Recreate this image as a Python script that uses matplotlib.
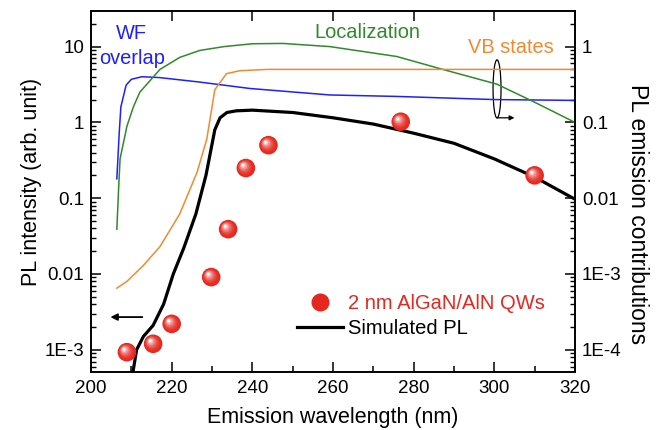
import numpy as np
import matplotlib
matplotlib.use("Agg")
import matplotlib.pyplot as plt
from matplotlib.lines import Line2D
from matplotlib.patches import Ellipse
from matplotlib.transforms import offset_copy
from matplotlib.ticker import FixedLocator, MultipleLocator, LogLocator, NullFormatter

plt.rcParams["font.family"] = ["Liberation Sans", "DejaVu Sans"]

# measured PL peak intensities (left axis)
exp_wl = [208.9, 215.4, 220.0, 229.8, 234.0, 238.4, 244.0, 276.8, 310.0]
exp_pl = [9.3e-4, 1.2e-3, 2.2e-3, 9.1e-3, 0.039, 0.25, 0.50, 1.02, 0.20]

# simulated PL (left axis)
sim_wl = [210.4, 211.3, 213.0, 215.4, 218.0, 220.4, 223.0, 226.0, 228.5, 230.7,
          232.0, 233.7, 236.0, 240.0, 250.0, 260.0, 270.0, 280.0, 290.0, 300.0,
          310.0, 320.0]
sim_pl = [5.1e-4, 1.0e-3, 1.5e-3, 2.1e-3, 4.0e-3, 0.01, 0.022, 0.062, 0.2, 0.8,
          1.15, 1.35, 1.42, 1.45, 1.35, 1.15, 0.95, 0.72, 0.53, 0.33,
          0.19, 0.097]

# emission contributions (right axis)
loc_wl = [206.4, 206.8, 207.2, 208.9, 210.5, 212.1, 217.1, 222.0, 227.0, 233.0,
          240.1, 247.6, 259.2, 275.8, 287.2, 300.6, 309.5, 320.0]
loc_val = [0.0039, 0.012, 0.033, 0.089, 0.16, 0.25, 0.5, 0.72, 0.89, 1.0,
           1.09, 1.1, 1.0, 0.74, 0.5, 0.32, 0.19, 0.1]

wf_wl = [206.4, 207.0, 207.4, 208.7, 210.0, 212.6, 217.0, 227.0, 239.4, 259.2,
         275.8, 300.0, 320.0]
wf_val = [0.018, 0.074, 0.16, 0.31, 0.37, 0.40, 0.39, 0.34, 0.28, 0.23,
          0.22, 0.2, 0.195]

vb_wl = [206.4, 208.9, 213.0, 217.1, 222.0, 226.3, 228.7, 230.7, 233.6, 236.9,
         243.6, 260.0, 320.0]
vb_val = [6.5e-4, 8.0e-4, 1.3e-3, 2.3e-3, 6.2e-3, 0.022, 0.06, 0.27, 0.44, 0.48,
          0.5, 0.5, 0.5]

left_ticks = [1e-3, 1e-2, 0.1, 1, 10]
left_labels = ["1E-3", "0.01", "0.1", "1", "10"]
right_ticks = [1e-4, 1e-3, 1e-2, 0.1, 1]
right_labels = ["1E-4", "1E-3", "0.01", "0.1", "1"]

c_blue = "#1f1fff"
c_green = "#2f8a2a"
c_orange = "#f3892f"
c_red = "#e5281f"

fig = plt.figure(figsize=(6.62, 4.30), dpi=100)
ax = fig.add_axes([0.1375, 0.135, 0.731, 0.8395])
ax2 = ax.twinx()

ax.set_xlim(200, 320)
ax.set_yscale("log")
ax.set_ylim(5.1e-4, 29.5)
ax2.set_yscale("log")
ax2.set_ylim(5.1e-5, 2.95)

# contributions on right axis
ax2.plot(wf_wl, wf_val, color=c_blue, lw=1.1)
ax2.plot(loc_wl, loc_val, color=c_green, lw=1.1)
ax2.plot(vb_wl, vb_val, color=c_orange, lw=1.1)

# simulated PL
ax.plot(sim_wl, sim_pl, color="black", lw=2.3, zorder=3)

# shaded spheres for the experimental points
n_layers = 8
for i in range(n_layers):
    f = i / (n_layers - 1)
    size = 175 * (1 - f) ** 1.6 + 4
    col = np.array(matplotlib.colors.to_rgb(c_red)) * (1 - f ** 2) + np.ones(3) * f ** 2
    tr = offset_copy(ax.transData, fig=fig, x=-2.2 * f, y=2.2 * f, units="points")
    ax.scatter(exp_wl, exp_pl, s=size, color=col, edgecolors="none",
               transform=tr, zorder=4 + i * 0.01)

# ticks
ax.yaxis.set_major_locator(FixedLocator(left_ticks))
ax.set_yticklabels(left_labels)
ax.yaxis.set_minor_locator(LogLocator(base=10, subs=np.arange(2, 10)))
ax.yaxis.set_minor_formatter(NullFormatter())
ax2.yaxis.set_major_locator(FixedLocator(right_ticks))
ax2.set_yticklabels(right_labels)
ax2.yaxis.set_minor_locator(LogLocator(base=10, subs=np.arange(2, 10)))
ax2.yaxis.set_minor_formatter(NullFormatter())
ax.xaxis.set_major_locator(MultipleLocator(20))
ax.xaxis.set_minor_locator(MultipleLocator(10))

ax.tick_params(axis="both", which="major", direction="in", length=7, width=1.1,
               labelsize=13.5, top=True, right=False)
ax.tick_params(axis="x", which="major", pad=6)
ax.tick_params(axis="y", which="major", pad=5)
ax.tick_params(axis="x", which="minor", direction="in", length=4, width=1.1,
               top=False, bottom=True)
ax.tick_params(axis="y", which="minor", direction="in", length=3.5, width=1.0,
               right=False)
ax2.tick_params(axis="y", which="major", direction="in", length=7, width=1.1,
                labelsize=13.5, pad=5)
ax2.tick_params(axis="y", which="minor", direction="in", length=3.5, width=1.0)
for a in (ax, ax2):
    for sp in a.spines.values():
        sp.set_linewidth(1.2)

ax.set_xlabel("Emission wavelength (nm)", fontsize=15.5)
ax.xaxis.label.set_va("center")
ax.xaxis.set_label_coords(0.5, -0.125)
ax.set_ylabel("PL intensity (arb. unit)", fontsize=15.5)
ax.yaxis.label.set_va("center")
ax.yaxis.set_label_coords(-0.122, 0.526)
ax2.set_ylabel("PL emission contributions", fontsize=16.5, rotation=-90)
ax2.yaxis.label.set_va("center")
ax2.yaxis.set_label_coords(1.13, 0.436)

# curve labels
ax.text(0.083, 0.937, "WF", transform=ax.transAxes, color=c_blue, fontsize=14.4,
        ha="center", va="center")
ax.text(0.085, 0.867, "overlap", transform=ax.transAxes, color=c_blue,
        fontsize=14.4, ha="center", va="center")
ax.text(0.57, 0.94, "Localization", transform=ax.transAxes, color=c_green,
        fontsize=14.4, ha="center", va="center")
ax.text(0.867, 0.9, "VB states", transform=ax.transAxes, color=c_orange,
        fontsize=14.4, ha="center", va="center")

# axis-assignment arrows
ax.annotate("", xy=(0.04, 0.152), xytext=(0.106, 0.152), xycoords="axes fraction",
            arrowprops=dict(arrowstyle="-|>", color="black", lw=1.3,
                            mutation_scale=10, shrinkA=0, shrinkB=0))
ax.add_patch(Ellipse((0.839, 0.784), 0.0165, 0.161, transform=ax.transAxes,
                     fill=False, edgecolor="black", lw=0.9, zorder=6))
ax.annotate("", xy=(0.875, 0.704), xytext=(0.84, 0.704), xycoords="axes fraction",
            arrowprops=dict(arrowstyle="-|>", color="black", lw=0.9,
                            mutation_scale=7, shrinkA=0, shrinkB=0))

# legend
handles = [Line2D([], [], ls="none", marker="o", markersize=13, color=c_red,
                  markeredgecolor="none"),
           Line2D([], [], color="black", lw=2.3)]
leg = ax.legend(handles, ["2 nm AlGaN/AlN QWs", "Simulated PL"], loc="center left",
                bbox_to_anchor=(0.4256, 0.154), frameon=False, fontsize=14.5,
                handlelength=2.27, handletextpad=0.25, labelspacing=0.3,
                borderpad=0, borderaxespad=0)
leg.get_texts()[0].set_color(c_red)

fig.savefig("out.png", dpi=100)
